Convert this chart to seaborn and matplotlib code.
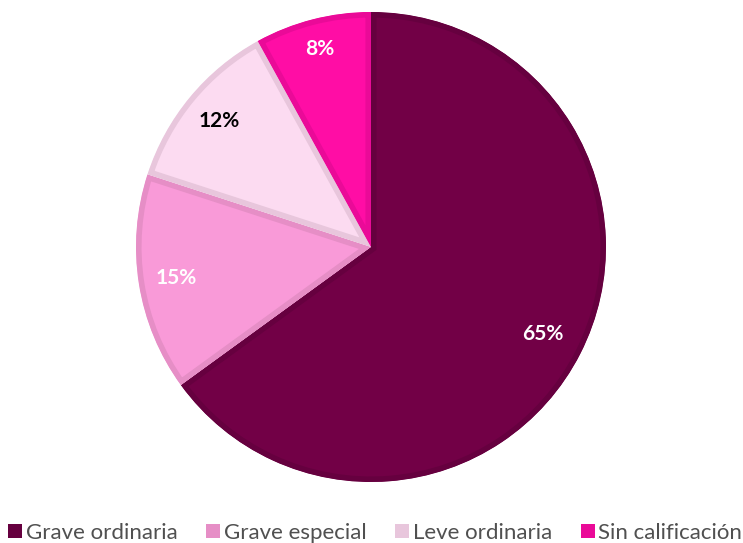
import matplotlib
matplotlib.use('Agg')
import matplotlib.pyplot as plt
import matplotlib.patches as mpatches
import seaborn as sns

# data
categories = ['Grave ordinaria', 'Grave especial', 'Leve ordinaria', 'Sin calificación']
values = [65, 15, 12, 8]
fill_colors = ['#720046', '#F99AD8', '#FCDBF1', '#FF0DA5']
edge_colors = ['#66003F', '#E68EC6', '#E8C6DC', '#EA0A98']
label_colors = ['white', 'white', 'black', 'white']
label_dist = [0.82, 0.84, 0.84, 0.87]

sns.set_theme(style='white')
plt.rcParams['font.family'] = ['Lato', 'DejaVu Sans']

fig = plt.figure(figsize=(7.43, 5.43), dpi=100)
ax = fig.add_axes([136 / 743, 61 / 543, 470 / 743, 470 / 543])

wedges, texts, autotexts = ax.pie(
    values, colors=fill_colors, startangle=90, counterclock=False,
    autopct='%d%%', pctdistance=1.0,
    wedgeprops=dict(linewidth=8),
    textprops=dict(fontsize=15, fontweight='bold'))

# inner border: clip each stroke to a copy of its wedge so only the inside half shows
for w, ec in zip(wedges, edge_colors):
    w.set_edgecolor(ec)
    clip = mpatches.Wedge(w.center, w.r, w.theta1, w.theta2, transform=ax.transData)
    w.set_clip_on(True)
    w.set_clip_path(clip)

for t, c, d in zip(autotexts, label_colors, label_dist):
    x, y = t.get_position()
    t.set_position((x * d, y * d))
    t.set_color(c)

ax.set_xlim(-1, 1)
ax.set_ylim(-1, 1)
ax.set_aspect('equal')
ax.axis('off')

handles = [mpatches.Patch(facecolor=c, edgecolor='none') for c in edge_colors]
fig.legend(handles, categories, loc='lower center', bbox_to_anchor=(0.505, -0.024),
           ncol=4, frameon=False, fontsize=16, borderpad=0.1,
           handlelength=0.63, handleheight=0.63, handletextpad=0.15,
           columnspacing=1.3, labelcolor='#505050')

fig.savefig('out.png', dpi=100)
